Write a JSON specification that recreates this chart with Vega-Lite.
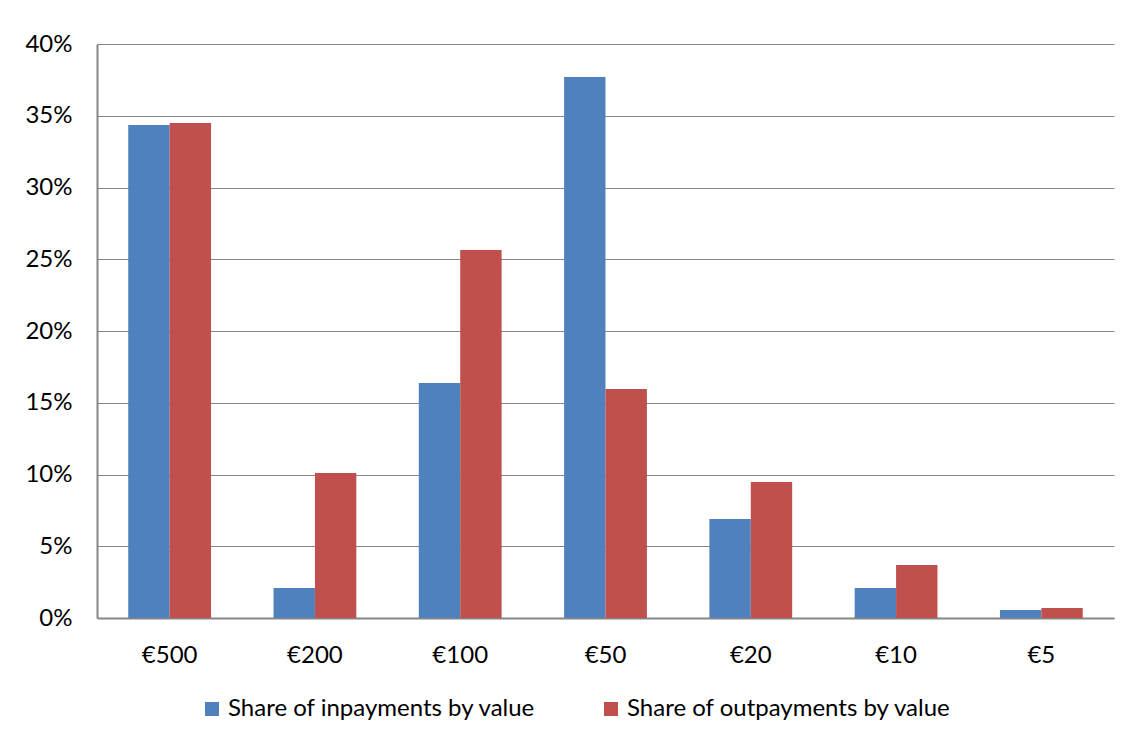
{
  "$schema": "https://vega.github.io/schema/vega-lite/v6.json",
  "width": 1017,
  "height": 574,
  "autosize": {"type": "none"},
  "padding": {"left": 97, "top": 44, "right": 18, "bottom": 122},
  "background": "white",
  "data": {
    "values": [
      {"denomination": "€500", "series": "Share of inpayments by value", "share": 0.3436},
      {"denomination": "€500", "series": "Share of outpayments by value", "share": 0.345},
      {"denomination": "€200", "series": "Share of inpayments by value", "share": 0.0209},
      {"denomination": "€200", "series": "Share of outpayments by value", "share": 0.101},
      {"denomination": "€100", "series": "Share of inpayments by value", "share": 0.1638},
      {"denomination": "€100", "series": "Share of outpayments by value", "share": 0.2564},
      {"denomination": "€50", "series": "Share of inpayments by value", "share": 0.377},
      {"denomination": "€50", "series": "Share of outpayments by value", "share": 0.1596},
      {"denomination": "€20", "series": "Share of inpayments by value", "share": 0.069},
      {"denomination": "€20", "series": "Share of outpayments by value", "share": 0.0948},
      {"denomination": "€10", "series": "Share of inpayments by value", "share": 0.0209},
      {"denomination": "€10", "series": "Share of outpayments by value", "share": 0.0369},
      {"denomination": "€5", "series": "Share of inpayments by value", "share": 0.0056},
      {"denomination": "€5", "series": "Share of outpayments by value", "share": 0.007}
    ]
  },
  "mark": {"type": "bar"},
  "encoding": {
    "x": {
      "field": "denomination",
      "type": "nominal",
      "sort": null,
      "scale": {"paddingInner": 0.43, "paddingOuter": 0.215},
      "axis": {
        "title": null,
        "labelAngle": 0,
        "ticks": false,
        "labelPadding": 25,
        "labelFont": "Lato",
        "labelFontSize": 24,
        "labelColor": "#000000",
        "domainColor": "#868686",
        "domainWidth": 2
      }
    },
    "xOffset": {"field": "series", "type": "nominal", "sort": null},
    "y": {
      "field": "share",
      "type": "quantitative",
      "scale": {"domain": [0, 0.4], "nice": false},
      "axis": {
        "title": null,
        "values": [0, 0.05, 0.1, 0.15, 0.2, 0.25, 0.3, 0.35, 0.4],
        "format": ".0%",
        "ticks": false,
        "labelPadding": 25,
        "labelFont": "Lato",
        "labelFontSize": 24,
        "labelColor": "#000000",
        "domainColor": "#868686",
        "domainWidth": 2,
        "grid": true,
        "gridColor": "#868686",
        "gridWidth": 1.2
      }
    },
    "color": {
      "field": "series",
      "type": "nominal",
      "sort": null,
      "scale": {
        "domain": ["Share of inpayments by value", "Share of outpayments by value"],
        "range": ["#4F81BD", "#C0504D"]
      },
      "legend": {
        "title": null,
        "orient": "none",
        "direction": "horizontal",
        "legendX": 103,
        "legendY": 653,
        "symbolType": "square",
        "symbolSize": 196,
        "symbolStrokeWidth": 0,
        "labelFont": "Lato",
        "labelFontSize": 24,
        "labelColor": "#000000",
        "labelOffset": 4,
        "columnPadding": 63,
        "labelLimit": 400
      }
    }
  },
  "config": {"view": {"stroke": null}}
}
